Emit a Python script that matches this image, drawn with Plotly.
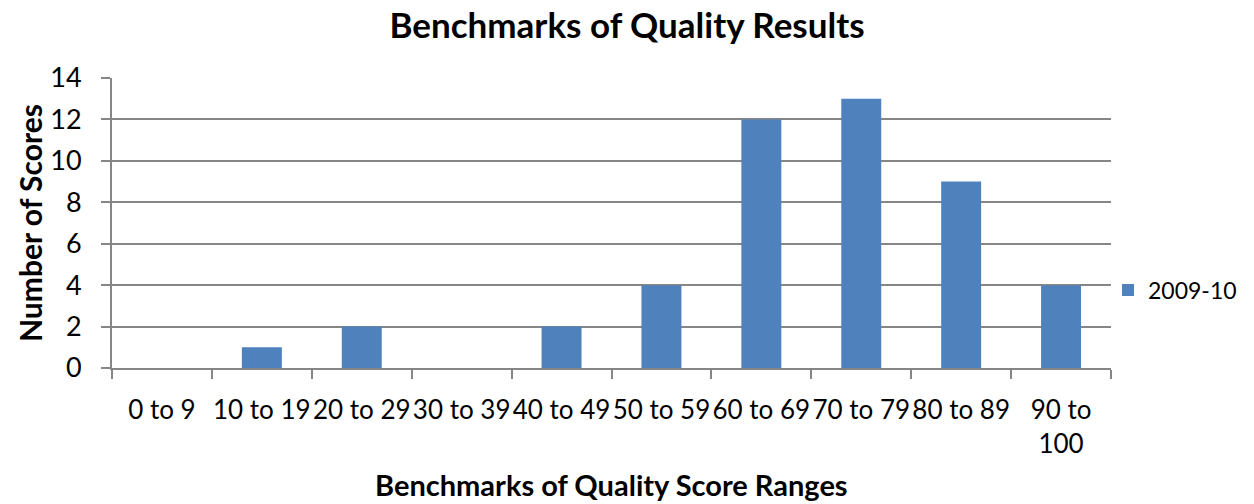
import plotly.graph_objects as go

categories = ["0 to 9", "10 to 19", "20 to 29", "30 to 39", "40 to 49",
              "50 to 59", "60 to 69", "70 to 79", "80 to 89", "90 to<br>100"]
values_2009_10 = [0, 1, 2, 0, 2, 4, 12, 13, 9, 4]
series_name = "2009-10"

FONT = "Lato"
GRAY = "#868686"

fig = go.Figure()
fig.add_trace(go.Bar(
    x=categories, y=values_2009_10, name=series_name,
    marker=dict(color="#4F81BD", line=dict(width=0)),
    showlegend=True,
))

fig.update_layout(
    width=1254, height=504,
    margin=dict(l=112, r=130, t=78, b=136),
    paper_bgcolor="white", plot_bgcolor="white",
    bargap=0.6,
    font=dict(family=FONT, size=26, color="black"),
    title=dict(text="<b>Benchmarks of Quality Results</b>", x=0.5, xanchor="center",
               y=1 - 26 / 504, yanchor="middle", yref="container",
               font=dict(family=FONT, size=35, color="black")),
    showlegend=True,
    legend=dict(x=0.997, xanchor="left", y=0.269, yanchor="middle",
                font=dict(family=FONT, size=23), bgcolor="rgba(0,0,0,0)",
                itemwidth=30),
    xaxis=dict(
        type="category", automargin=False,
        showline=True, linecolor=GRAY, linewidth=2,
        ticks="outside", tickson="boundaries", ticklen=9, tickcolor=GRAY, tickwidth=2,
        showgrid=False,
        tickfont=dict(family=FONT, size=26),
        ticklabelstandoff=18,
        tickangle=0,
    ),
    yaxis=dict(
        range=[0, 14], dtick=2, automargin=False,
        showline=True, linecolor=GRAY, linewidth=2,
        ticks="outside", ticklen=9, tickcolor=GRAY, tickwidth=2,
        showgrid=True, gridcolor=GRAY, gridwidth=2,
        zeroline=False,
        tickfont=dict(family=FONT, size=27),
        ticklabelstandoff=14,
    ),
    annotations=[
        dict(text="<b>Benchmarks of Quality Score Ranges</b>", xref="paper", yref="paper",
             x=0.5, y=0, yshift=-116, xanchor="center", yanchor="middle",
             showarrow=False, font=dict(family=FONT, size=29)),
        dict(text="<b>Number of Scores</b>", xref="paper", yref="paper",
             x=0, y=0.5, xshift=-82, xanchor="center", yanchor="middle",
             textangle=-90, showarrow=False, font=dict(family=FONT, size=30)),
    ],
)

fig.write_html(
    "out.html",
    config={"displayModeBar": False, "responsive": False},
    post_script="document.body.style.margin='0';document.body.style.overflow='hidden';",
)
